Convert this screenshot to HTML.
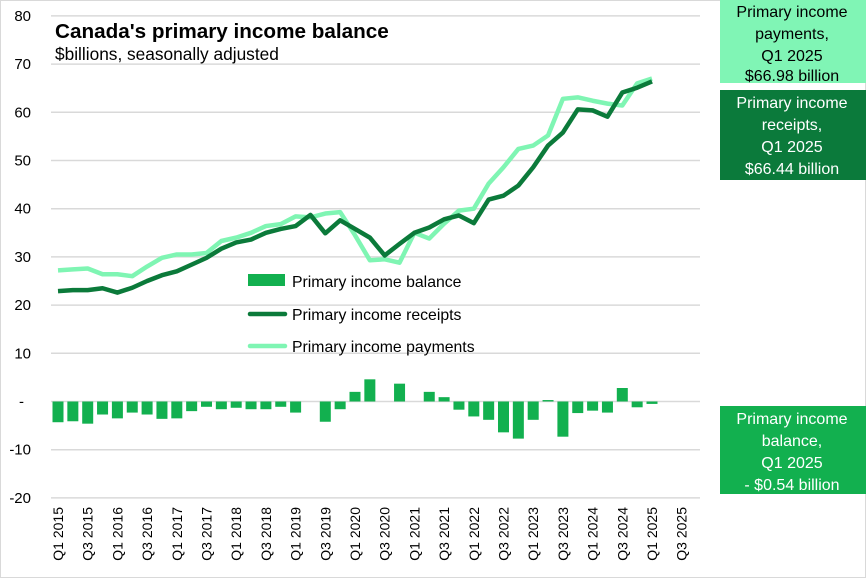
<!DOCTYPE html>
<html><head><meta charset="utf-8"><style>
body{margin:0;background:#fff}
svg{display:block;font-family:"Liberation Sans",sans-serif}
</style></head><body>
<svg width="866" height="578" viewBox="0 0 866 578">
<rect x="0.5" y="0.5" width="865" height="577" fill="#fff" stroke="#d9d9d9"/>
<g stroke="#d9d9d9" stroke-width="1.5" id="grid"></g>
<g font-size="15" fill="#000" text-anchor="end" id="ylab"></g>
<g id="bars" fill="#12b04f"></g>
<polyline id="pay" fill="none" stroke="#7ff5b3" stroke-width="4.5" stroke-linejoin="round"/>
<polyline id="rec" fill="none" stroke="#0b7a3a" stroke-width="4.5" stroke-linejoin="round"/>
<g id="xlab" font-size="14"></g>
<text x="55" y="38" font-size="20.7" font-weight="bold">Canada's primary income balance</text>
<text x="55" y="60" font-size="17.3">$billions, seasonally adjusted</text>
<rect x="248" y="274" width="37" height="12" fill="#12b04f"/>
<text x="292" y="287" font-size="15.8">Primary income balance</text>
<line x1="250" y1="314" x2="285" y2="314" stroke="#0b7a3a" stroke-width="4.5" stroke-linecap="round"/>
<text x="292" y="320" font-size="15.8">Primary income receipts</text>
<line x1="250" y1="346" x2="285" y2="346" stroke="#7ff5b3" stroke-width="4.5" stroke-linecap="round"/>
<text x="292" y="352" font-size="15.8">Primary income payments</text>
<g font-size="16" text-anchor="middle">
<rect x="720" y="0" width="146" height="83" fill="#80f5b5"/>
<text x="792" y="17">Primary income</text><text x="792" y="39">payments,</text><text x="792" y="61">Q1 2025</text><text x="792" y="81">$66.98 billion</text>
<rect x="720" y="90" width="146" height="90" fill="#0b7a3b"/>
<g fill="#fff"><text x="792" y="108">Primary income</text><text x="792" y="130">receipts,</text><text x="792" y="152">Q1 2025</text><text x="792" y="174">$66.44 billion</text></g>
<rect x="720" y="406" width="146" height="88" fill="#12b04f"/>
<g fill="#fff"><text x="792" y="424">Primary income</text><text x="792" y="446">balance,</text><text x="792" y="468">Q1 2025</text><text x="792" y="490">- $0.54 billion</text></g>
</g>
</svg>
<script>
const ns="http://www.w3.org/2000/svg";
const Y=v=>401.5-v*4.82, X=i=>58+i*14.85;
const g=document.getElementById('grid'),yl=document.getElementById('ylab');
for(let v=80;v>=-20;v-=10){const l=document.createElementNS(ns,'line');l.setAttribute('x1',51);l.setAttribute('x2',700);l.setAttribute('y1',Y(v));l.setAttribute('y2',Y(v));g.appendChild(l);
const t=document.createElementNS(ns,'text');t.setAttribute('x',v==0?24:31);t.setAttribute('y',Y(v)+5);t.textContent=v==0?'-':v;yl.appendChild(t);}
const bal=[-4.3,-4.1,-4.6,-2.7,-3.5,-2.3,-2.7,-3.6,-3.5,-2.0,-1.1,-1.6,-1.3,-1.6,-1.6,-1.1,-2.3,0,-4.2,-1.6,2.0,4.6,0,3.7,0,2.0,0.9,-1.7,-3.1,-3.8,-6.4,-7.7,-3.8,0.3,-7.3,-2.4,-1.9,-2.3,2.8,-1.2,-0.5];
const b=document.getElementById('bars');
bal.forEach((v,i)=>{if(v==0)return;const r=document.createElementNS(ns,'rect');r.setAttribute('x',X(i)-5.5);r.setAttribute('width',11);r.setAttribute('y',Math.min(Y(v),Y(0)));r.setAttribute('height',Math.abs(v*4.82));b.appendChild(r);});
const rec=[22.9,23.1,23.1,23.5,22.6,23.6,25.0,26.2,27.0,28.4,29.8,31.7,33.0,33.6,35.0,35.8,36.4,38.7,34.9,37.6,35.8,34.0,30.3,32.7,35.0,36.1,37.8,38.6,37.0,41.9,42.7,44.8,48.6,53.1,55.8,60.6,60.4,59.1,64.1,65.1,66.4];
const pay=[27.2,27.4,27.6,26.4,26.4,26.0,28.0,29.8,30.5,30.5,30.8,33.3,34.0,35.0,36.4,36.8,38.4,38.2,39.0,39.3,34.5,29.3,29.5,28.8,35.0,33.8,36.9,39.6,40.0,45.2,48.6,52.4,53.1,55.2,62.8,63.1,62.4,61.8,61.4,66.0,67.0];
document.getElementById('rec').setAttribute('points',rec.map((v,i)=>X(i)+','+Y(v)).join(' '));
document.getElementById('pay').setAttribute('points',pay.map((v,i)=>X(i)+','+Y(v)).join(' '));
const xl=document.getElementById('xlab');
for(let k=0;k<22;k++){const i=k*2;const t=document.createElementNS(ns,'text');const x=X(i)+5,y=507;t.setAttribute('transform',`translate(${x},${y}) rotate(-90)`);t.setAttribute('text-anchor','end');t.textContent=(k%2?'Q3 ':'Q1 ')+(2015+Math.floor(k/2));xl.appendChild(t);}
</script>
</body></html>
